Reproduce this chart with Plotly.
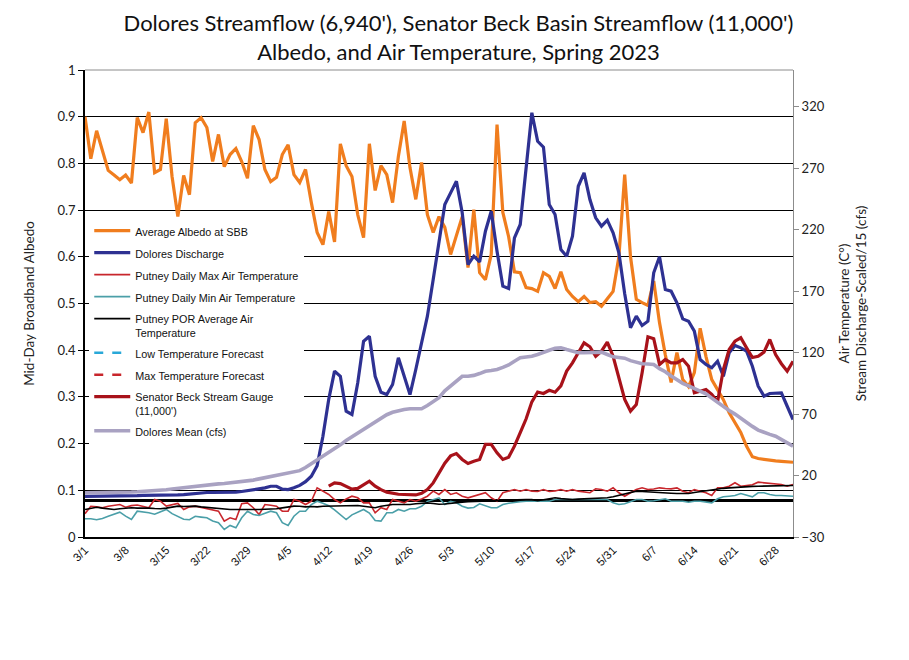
import plotly.graph_objects as go
import pandas as pd

dates = pd.date_range("2023-03-01", "2023-07-01", freq="D").strftime("%Y-%m-%d").tolist()

albedo = [
    0.90, 0.81, 0.87, 0.83, 0.785, 0.775, 0.765, 0.775, 0.758, 0.898,
    0.866, 0.91, 0.78, 0.787, 0.896, 0.772, 0.686, 0.774, 0.733, 0.887,
    0.898, 0.877, 0.804, 0.862, 0.793, 0.819, 0.832, 0.804, 0.768, 0.881,
    0.851, 0.787, 0.761, 0.77, 0.819, 0.84, 0.776, 0.759, 0.787, 0.716,
    0.652, 0.626, 0.697, 0.632, 0.842, 0.795, 0.772, 0.69, 0.641, 0.842,
    0.742, 0.795, 0.776, 0.716, 0.815, 0.891, 0.791, 0.723, 0.802, 0.69,
    0.652, 0.686, 0.663, 0.605, 0.643, 0.686, 0.577, 0.701, 0.566, 0.551,
    0.605, 0.883, 0.695, 0.643, 0.568, 0.566, 0.534, 0.532, 0.526, 0.566,
    0.558, 0.532, 0.568, 0.53, 0.515, 0.504, 0.515, 0.502, 0.504, 0.494,
    0.51, 0.526, 0.60, 0.776, 0.60, 0.509, 0.502, 0.496, 0.548, 0.459,
    0.39, 0.331, 0.395, 0.337, 0.322, 0.352, 0.447, 0.387, 0.337, 0.316,
    0.294, 0.266, 0.245, 0.224, 0.194, 0.172, 0.168, 0.166, 0.164, 0.163,
    0.162, 0.161, 0.16,
]

dolores_discharge = [
    3, 3, 3, 3, 3, 3, 3.2, 3.3, 3.5, 3.6,
    3.8, 3.8, 4, 4, 4, 4, 4.2, 4.5, 5, 5.8,
    6.2, 6.2, 6.2, 6.2, 6.2, 6.2, 6.5, 7, 7.8, 8.6,
    9, 10, 11.3, 11.3, 9, 8.6, 10, 12, 15, 19.5,
    28, 52, 82, 105, 100.8, 72.4, 69.7, 95.5, 129.3, 133.4,
    100.8, 87.8, 85.9, 94.1, 115.8, 100.8, 85.9, 106.3, 126.6, 149.7,
    179.5, 209.4, 240.5, 250, 259.5, 233.8, 191.7, 198.5, 193.9, 218.8,
    235.1, 202.5, 174.1, 172.2, 213.4, 224.3, 269, 315.2, 292, 287.2,
    240.5, 232.4, 203.9, 198.5, 214.7, 255.4, 266.3, 244.6, 229.7, 222.9,
    227.8, 217.5, 201.2, 168, 140.2, 149.7, 142.1, 145.6, 185, 198,
    171.4, 170, 160.6, 147.5, 145.6, 137.5, 114.4, 110.4, 107.7, 113,
    100.8, 119.9, 125.8, 123.9, 121.2, 109, 92.7, 84.6, 86.8, 86.8,
    87.3, 76.4, 65.6,
]

putney_max = [
    -11, -5, -5.5, -6.2, -5, -4.5, -3.6, -5.8, -4.5, -4,
    -4.9, -6.2, 0.5, -0.9, -4.9, -4, -2.7, -7.6, -5.5, -4.9,
    -6, -6.5, -7.6, -9, -17.1, -14.4, -15.8, -3, -2.2, -6.2,
    -11.7, -3.6, -4.2, -4.9, -9, -9, 0.5, -0.9, -3.6, -0.9,
    10, 7.3, 4.6, 0.5, -2.2, 1, 3.2, 1.9, -2.2, -2.2,
    -10.3, -6.2, -7.6, 0.5, -0.9, -2.2, 0.5, -0.9, 1, 3.2,
    7.3, 4.6, 8.6, 4.6, 6, 3.2, 1.9, 3.2, 4.6, 6,
    1.9, -0.9, 6, 7.3, 8.6, 7.3, 8.6, 7.3, 7, 8.6,
    7, 7.5, 8.6, 7.3, 8.6, 7.3, 6.5, 6, 9.2, 8.6,
    7.3, 10, 6, 3.2, 6, 8.6, 10, 8.6, 9, 10,
    9.5, 9.2, 10, 7.3, 6, 8.6, 7.3, 6, 3.8, 10,
    10, 11.3, 14.1, 11.3, 11.9, 12.5, 14.6, 14.1, 14.1, 13.5,
    12.7, 11.3, 12.7,
]

putney_min = [
    -15.2, -15.2, -16, -15, -13.1, -11.5, -9.8, -13, -15.8, -9,
    -9.5, -10.3, -11.5, -9.5, -7.6, -11, -13.1, -15.5, -16, -13.1,
    -13.8, -14.4, -17, -18.4, -23.9, -20.6, -22.5, -14.4, -9, -11.7,
    -12.5, -11, -9, -10.3, -18.4, -20.6, -13.1, -9, -9, -3.6,
    -0.9, -2.5, -4.5, -8, -12, -15.8, -12, -10, -7.6, -10.5,
    -16.6, -17.1, -10.3, -10.3, -7.6, -9, -7, -7, -5, -1,
    0.5, 1.9, -3.6, -0.9, -2.2, -4.9, -6.5, -6, -3, -4.5,
    -6.2, -6.2, -3.6, -2.5, -1.7, -1.3, -0.9, -0.9, -0.9, -0.9,
    -0.9, 0.5, 0.5, 0.5, 0.5, 0.8, 1, 1.1, 0.8, 0.5,
    0.5, -2.2, -3.6, -3, -1, 0.5, 0.5, -0.9, -0.5, 0,
    1.1, -0.9, -0.9, -0.9, -1.7, -0.9, -0.9, -1.5, -2.2, 1.1,
    2.7, 3.2, 3.8, 5.4, 3.8, 2.7, 6, 6, 4.6, 3.8,
    3.8, 3.8, 3.2,
]

putney_por_avg = [
    -7.6, -6.5, -5.8, -6.5, -7.2, -7.6, -7, -6.5, -6.2, -6.5,
    -6.2, -6.5, -6.8, -7, -6.5, -5.5, -4.9, -5.2, -5, -4.9,
    -5.5, -6, -6.2, -6.8, -7.2, -7.6, -7.6, -7.4, -7.6, -7.6,
    -7.6, -7.5, -7.2, -7, -6.3, -5.5, -4.9, -5, -5.5, -5.2,
    -5.5, -5, -4.9, -5, -4.9, -4.6, -4.5, -4.4, -5, -5.6,
    -6.2, -5, -4, -3.6, -3.6, -3.8, -3.6, -3, -2.4, -2.2,
    -2.8, -3.4, -3.2, -2.5, -1.9, -1.6, -1.2, -1, -0.9, -0.9,
    -0.9, -0.6, -0.4, -0.3, 0, 0.3, 0.5, 0.4, -0.5, 0.3,
    1, 1.9, 1.2, 0.8, 0.5, 0.8, 1, 1.1, 1.4, 1.7,
    1.9, 2.8, 3.8, 4.8, 6, 7.3, 7, 6.6, 6.3, 6,
    5.8, 5.6, 5.4, 5.4, 5.4, 6.2, 7, 7.8, 8.6, 9.2,
    9.6, 10, 10.4, 10.8, 11, 11.2, 11.3, 11.3, 11.3, 11.5,
    11.7, 11.8, 11.9,
]

senator_beck_gauge = [None] * 42 + [
    11.3, 14.1, 13.5, 11, 9, 9.5, 12.7, 15.4,
    11.3, 8.5, 6.5, 5.4, 4.8, 4.6, 4.3, 4.2, 5.5, 8.6,
    14, 22, 30, 36, 37.9, 33.1, 29.8, 31.7, 33.1, 45.3,
    45.3, 38.5, 33.1, 35, 43.9, 55, 66, 80, 88, 86.8,
    89.4, 87.8, 93, 105, 111.7, 119.9, 128, 124.8, 117.1, 121.2,
    128.5, 117.1, 98.2, 81.9, 72.4, 77.8, 103.6, 132.9, 131.3, 110.4,
    114.4, 111.7, 111.7, 114.4, 109, 87.3, 88.6, 90, 86, 80,
    106.3, 122.6, 129.3, 132.1, 123.9, 116, 117, 120.4, 130.7, 118.5,
    111, 104.9, 113,
]

dolores_mean = [
    6, 6, 6, 6, 6, 6, 6.2, 6.4, 6.6, 6.8,
    7, 7.3, 7.6, 8, 8.5, 9, 9.6, 10, 10.5, 11,
    11.8, 12.3, 12.7, 13.2, 13.6, 14.1, 14.5, 15, 15.4, 16.3,
    17.3, 18.2, 19, 20, 20.9, 21.8, 22.7, 24, 26.5, 29.5,
    32.5, 35.5, 38.5, 42, 45, 48.5, 51.5, 55, 58, 60.5,
    64, 67, 69.5, 71.5, 73, 73.8, 74.3, 74.3, 74.3, 77,
    80.5, 83.3, 89, 93, 97, 100.8, 100.8, 101.5, 103, 104.9,
    105.5, 106.3, 108, 110, 113, 115.8, 116.5, 117.1, 118.5, 120.5,
    122, 123.5, 123.9, 122.5, 121.2, 120, 119.9, 119.9, 120.2, 120.4,
    118.5, 116.6, 116, 115.5, 113.5, 112, 111, 110.8, 110.4, 107,
    104.5, 101, 98, 95, 93, 91, 89, 86.5, 83, 79.5,
    76.4, 73, 70, 66.5, 63, 60, 57, 55, 53.5, 52,
    49.5, 47, 43.9,
]

tick_dates = ["2023-03-01", "2023-03-08", "2023-03-15", "2023-03-22", "2023-03-29",
              "2023-04-05", "2023-04-12", "2023-04-19", "2023-04-26", "2023-05-03",
              "2023-05-10", "2023-05-17", "2023-05-24", "2023-05-31", "2023-06-07",
              "2023-06-14", "2023-06-21", "2023-06-28"]
tick_labels = ["3/1", "3/8", "3/15", "3/22", "3/29", "4/5", "4/12", "4/19", "4/26",
               "5/3", "5/10", "5/17", "5/24", "5/31", "6/7", "6/14", "6/21", "6/28"]

fig = go.Figure()

def add(name, y, color, width, axis, dash="solid"):
    fig.add_trace(go.Scatter(
        x=dates, y=y, name=name, mode="lines", yaxis=axis,
        line=dict(color=color, width=width, dash=dash),
        legendgroup=name, connectgaps=False, hoverinfo="skip",
    ))

add("Average Albedo at SBB", albedo, "#F07D1E", 3.2, "y")
add("Dolores Discharge", dolores_discharge, "#2E3192", 3.2, "y2")
add("Putney Daily Max Air Temperature", putney_max, "#C8262C", 1.6, "y2")
add("Putney Daily Min Air Temperature", putney_min, "#4B9FA8", 1.6, "y2")
add("Putney POR Average Air<br>Temperature", putney_por_avg, "#000000", 1.6, "y2")
add("Low Temperature Forecast", [None] * len(dates), "#29A8D8", 2.5, "y2", dash="dash")
add("Max Temperature Forecast", [None] * len(dates), "#C8262C", 2.5, "y2", dash="dash")
add("Senator Beck Stream Gauge<br>(11,000')", senator_beck_gauge, "#A8121A", 3.2, "y2")
add("Dolores Mean (cfs)", dolores_mean, "#A9A2C2", 3.6, "y2")

fig.update_layout(
    width=901, height=652,
    paper_bgcolor="white", plot_bgcolor="white",
    margin=dict(l=77, r=116, t=62, b=123),
    title=dict(
        text="Dolores Streamflow (6,940'), Senator Beck Basin Streamflow (11,000')<br>Albedo, and Air Temperature, Spring 2023",
        x=0.5, xanchor="center", xref="container", yref="container", y=0.9647, yanchor="top",
        font=dict(family="Lato, Open Sans, sans-serif", size=22, color="#111"),
    ),
    font=dict(family="Lato, Liberation Sans, sans-serif", color="#222"),
    showlegend=True,
    legend=dict(
        x=0.006, y=0.685, xanchor="left", yanchor="top",
        bgcolor="white", borderwidth=0,
        font=dict(family="Liberation Sans, Arial, sans-serif", size=10.8, color="#111"),
        traceorder="grouped", tracegroupgap=3, itemwidth=36, valign="top",
    ),
    xaxis=dict(
        type="date", range=[dates[0], dates[-1]], automargin=False,
        tickmode="array", tickvals=tick_dates, ticktext=tick_labels,
        tickangle=-45, tickfont=dict(family="Liberation Sans, Arial", size=11.5, color="#111"),
        showgrid=False, zeroline=False, showline=True, linecolor="#000", linewidth=1.5,
        ticks="",
    ),
    yaxis=dict(
        range=[0, 1], tick0=0, dtick=0.1, automargin=False,
        showgrid=True, gridcolor="#000", gridwidth=1,
        zeroline=False, showline=True, linecolor="#000", linewidth=1.5,
        ticks="outside", ticklen=5, tickcolor="#000",
        tickfont=dict(size=13, color="#222"),
        title=dict(text="Mid-Day Broadband Albedo", font=dict(size=13.5, color="#222"), standoff=20),
    ),
    yaxis2=dict(
        overlaying="y", side="right", range=[-30, 350], tick0=-30, dtick=50, automargin=False,
        showgrid=False, zeroline=True, zerolinecolor="#000", zerolinewidth=3,
        showline=True, linecolor="#8c8c8c", linewidth=1,
        ticks="outside", ticklen=5, tickcolor="#8c8c8c",
        tickfont=dict(size=13, color="#222"),
        title=dict(text="Air Temperature (C°)<br>Stream Discharge-Scaled/15 (cfs)",
                   font=dict(size=13.5, color="#222"), standoff=15),
    ),
    shapes=[dict(type="line", xref="paper", yref="paper", x0=0, x1=1, y0=1, y1=1,
                 line=dict(color="#8c8c8c", width=1), layer="above")],
)

fig.write_html("out.html")
